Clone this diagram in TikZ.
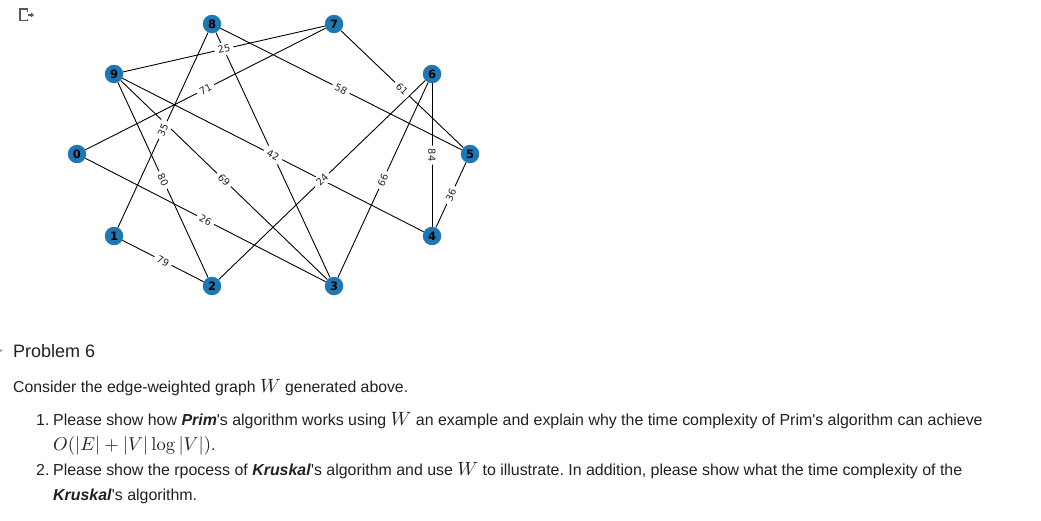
\documentclass[tikz,border=0pt]{standalone}
\usepackage{fontspec}
\setmainfont{Liberation Sans}[Ligatures=TeXOff]
\newfontfamily\djv{DejaVu Sans}
\DeclareFontShape{OML}{cmm}{m}{it}{<->cmmi10}{}
\DeclareFontShape{OMS}{cmsy}{m}{n}{<->cmsy10}{}
\DeclareFontShape{OT1}{cmr}{m}{n}{<->cmr10}{}
\DeclareMathAlphabet{\mathplain}{OT1}{cmr}{m}{n}
\definecolor{nodeblue}{HTML}{1F78B4}
\definecolor{bodytext}{HTML}{212121}
\tikzset{
  vertex/.style={circle,fill=nodeblue,minimum size=18.5pt,inner sep=0pt,font=\djv\bfseries\fontsize{11.5}{11.5}\selectfont,text=black},
  edgeline/.style={draw=black,line width=0.9pt},
  elab/.style={midway,fill=white,rounded corners=2pt,inner sep=0pt,minimum width=19pt,minimum height=13pt,font=\djv\fontsize{9.8}{9.8}\selectfont,text=black!85},
  bodyline/.style={anchor=base west,inner sep=0pt,text=bodytext},
  iconline/.style={draw=black!65,line width=1.4pt}
}
\newcommand{\bodyfont}[1]{\fontsize{#1}{#1}\selectfont\frenchspacing}
\newcommand{\bigmath}[1]{{\fontsize{19.2}{19.2}\selectfont$#1$}}
\newcommand{\midmath}[1]{{\fontsize{18.6}{18.6}\selectfont$#1$}}
\newcommand{\plainlog}{\mathop{\mathplain{log}}\nolimits}
\begin{document}
\begin{tikzpicture}[x=1pt,y=-1pt]
\useasboundingbox (0,0) rectangle (1041,520);
\fill[white] (0,0) rectangle (1041,520);
% icon
\draw[iconline] (27.5,12) -- (27.5,9) -- (20,9) -- (20,20.5) -- (27.5,20.5) -- (27.5,18.5);
\fill[black!65] (28,14) -- (31,14) -- (31,12.5) -- (34,15) -- (31,17.5) -- (31,16) -- (28,16) -- cycle;
\fill[black!45] (0,349.5) -- (3,349.5) -- (0,352) -- cycle;
% vertices
\node[vertex] (n0) at (77,154) {0};
\node[vertex] (n1) at (114,236) {1};
\node[vertex] (n2) at (212,286) {2};
\node[vertex] (n3) at (334,286) {3};
\node[vertex] (n4) at (432,236) {4};
\node[vertex] (n5) at (470,154) {5};
\node[vertex] (n6) at (432,74) {6};
\node[vertex] (n7) at (334,24) {7};
\node[vertex] (n8) at (212,24) {8};
\node[vertex] (n9) at (114,74) {9};
% edges
\foreach \a/\b in {n9/n7,n8/n3,n9/n4,n8/n5,n0/n7,n7/n5,n1/n8,n9/n3,n9/n2,n0/n3,n1/n2,n2/n6,n3/n6,n6/n4,n4/n5}{
  \draw[edgeline] (\a) -- (\b);
}
% edge labels
\path (n8) -- (n3) node[elab,sloped] (hid) {};
\foreach \a/\b/\t/\nm in {n9/n7/25/la,n9/n4/42/lb,n8/n5/58/lc,n0/n7/71/ld,n7/n5/61/le,n1/n8/35/lf,n9/n3/69/lg,n9/n2/80/lh,n0/n3/26/li,n1/n2/79/lj,n2/n6/24/lk,n3/n6/66/ll,n4/n5/36/lm}{
  \path (\a) -- (\b) node[elab,sloped] (\nm) {\t};
}
\path (n6) -- (n4) node[elab,rotate=-90] (ln) {84};
% text
\node[bodyline,font=\bodyfont{18}] (t1) at (13,357) {Problem 6};
\node[bodyline,font=\bodyfont{15.8}] (t2) at (13,392) {Consider the edge-weighted graph \bigmath{W} generated above.};
\node[bodyline,font=\bodyfont{15.92}] (t3a) at (36,425) {1.};
\node[bodyline,font=\bodyfont{15.92}] (t3) at (53,425) {Please show how \textbf{\textit{Prim}}'s algorithm works using \bigmath{W} an example and explain why the time complexity of Prim's algorithm can achieve};
\node[bodyline,font=\bodyfont{15.92}] (t4) at (53,450) {\midmath{O(|E|+|V|\plainlog|V|)}.};
\node[bodyline,font=\bodyfont{15.92}] (t5a) at (36,475) {2.};
\node[bodyline,font=\bodyfont{15.92}] (t5) at (53,475) {Please show the rpocess of \textbf{\textit{Kruskal}}'s algorithm and use \bigmath{W} to illustrate. In addition, please show what the time complexity of the};
\node[bodyline,font=\bodyfont{15.92}] (t6) at (53,500) {\textbf{\textit{Kruskal}}'s algorithm.};
\end{tikzpicture}
\end{document}
